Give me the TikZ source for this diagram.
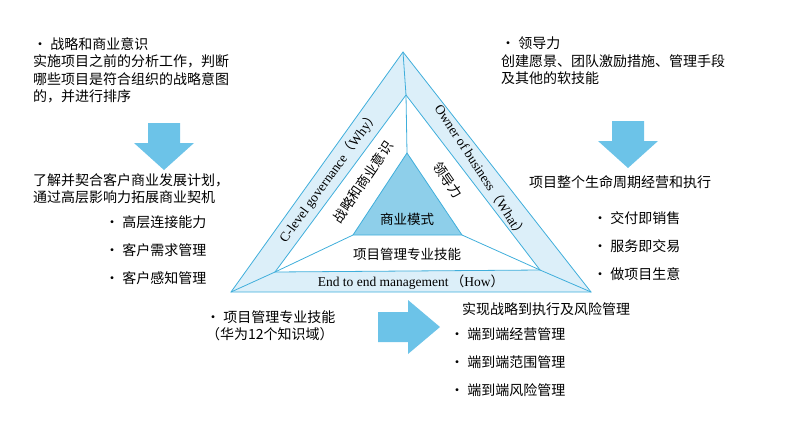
\documentclass[tikz,border=0pt]{standalone}
\usepackage{fontspec}
\setmainfont{Liberation Serif}
\newfontfamily\cjk{Noto Sans CJK SC}
\definecolor{lb}{HTML}{DCEFF9}
\definecolor{mb}{HTML}{8ECFEA}
\definecolor{ln}{HTML}{3FAEDB}
\definecolor{ar}{HTML}{6CC3E8}
\tikzset{txt/.style={font=\cjk\fontsize{14}{17.5}\selectfont,align=left,anchor=north west,inner sep=0pt},
lst/.style={txt,font=\cjk\fontsize{14}{28}\selectfont},
inl/.style={font=\cjk\fontsize{13.5}{15}\selectfont,inner sep=0pt},
band/.style={font=\fontsize{13.5}{15}\selectfont,inner sep=0pt},
edge/.style={draw=ln,line width=0.8pt},
bigarrow/.style={fill=ar,draw=none}}
\begin{document}
\begin{tikzpicture}[x=1pt,y=-1pt]
\useasboundingbox (0,0) rectangle (800,421);
\coordinate (A) at (403,52); \coordinate (B) at (231,292); \coordinate (C) at (591,292);
\coordinate (a) at (406,95); \coordinate (b) at (275,272); \coordinate (c) at (540,270);
\coordinate (p) at (407,153); \coordinate (q) at (353,235); \coordinate (r) at (462,235);
\fill[lb,even odd rule] (A)--(B)--(C)--cycle (a)--(b)--(c)--cycle;
\draw[edge] (A)--(B)--(C)--cycle;
\draw[edge] (a)--(b)--(c)--cycle;
\draw[edge] (A)--(a) (B)--(b) (C)--(c);
\fill[mb] (p)--(q)--(r)--cycle;
\draw[edge] (p)--(q)--(r)--cycle;
\draw[edge] (a)--(p) (b)--(q) (c)--(r);
\node[inl] (m) at (407,219) {商业模式};
\node[inl] (pm) at (407,254) {项目管理专业技能};
\node[inl,rotate=56] (zl) at (363,182) {战略和商业意识};
\node[inl,rotate=-55] (ld) at (448,180) {领导力};
\node[band] (e2e) at (411,282) {End to end management\,{\cjk（}How{\cjk）}};
\node[band,rotate=54] (cl) at (329,177) {C-level governance{\cjk（}Why{\cjk）}};
\node[band,rotate=-57] (ob) at (481,171) {Owner of business{\cjk（}What{\cjk）}};
\fill[bigarrow] (148,123)--(180,123)--(180,143)--(194,143)--(164,170)--(134,143)--(148,143)--cycle;
\fill[bigarrow] (612,121)--(644,121)--(644,141)--(658,141)--(628,168)--(598,141)--(612,141)--cycle;
\fill[bigarrow] (378,312)--(408,312)--(408,300)--(440,327)--(408,354)--(408,342)--(378,342)--cycle;
\node[txt] (t1) at (33,37) {• 战略和商业意识\\实施项目之前的分析工作，判断\\哪些项目是符合组织的战略意图\\的，并进行排序};
\node[txt] (t2) at (501,37) {• 领导力\\创建愿景、团队激励措施、管理手段\\及其他的软技能};
\node[txt] (t3) at (33,173) {了解并契合客户商业发展计划，\\通过高层影响力拓展商业契机};
\node[lst] (t4) at (105,215) {• 高层连接能力\\• 客户需求管理\\• 客户感知管理};
\node[txt] (t5) at (529,175) {项目整个生命周期经营和执行};
\node[lst] (t6) at (593,211) {• 交付即销售\\• 服务即交易\\• 做项目生意};
\node[txt] (t7) at (206,310) {• 项目管理专业技能\\（华为12个知识域）};
\node[txt] (t8) at (462,302) {实现战略到执行及风险管理};
\node[lst] (t9) at (450,327) {• 端到端经营管理\\• 端到端范围管理\\• 端到端风险管理};
\end{tikzpicture}
\end{document}
